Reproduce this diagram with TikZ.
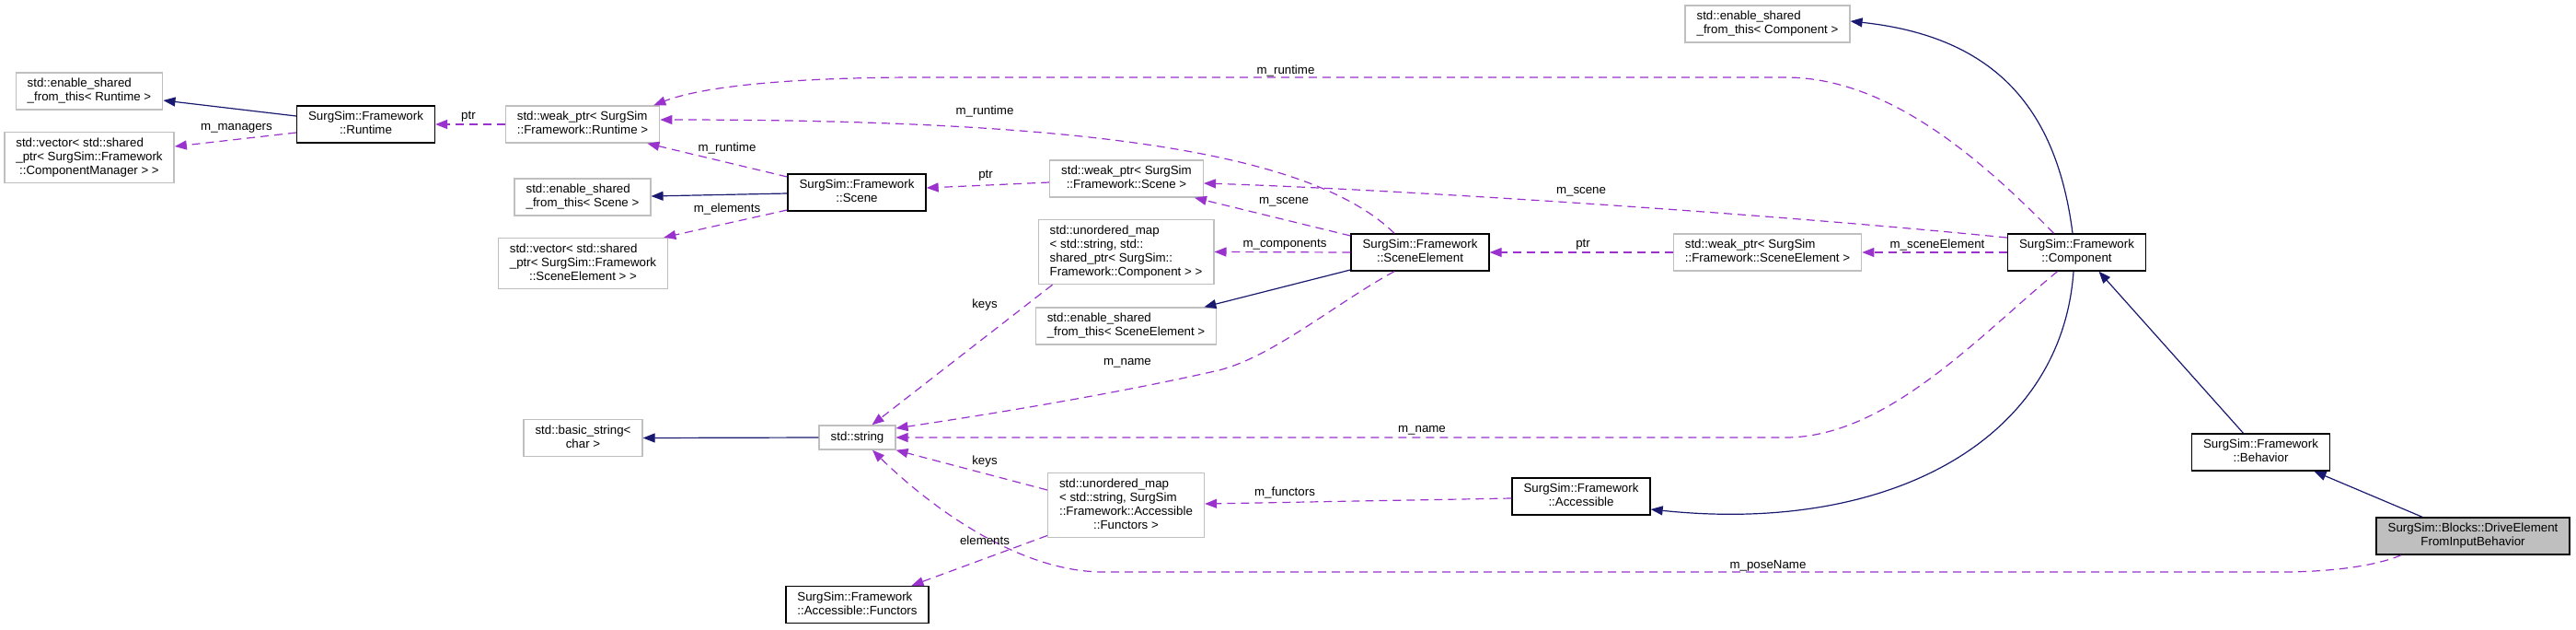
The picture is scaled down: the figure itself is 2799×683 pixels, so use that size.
\documentclass[tikz,border=0pt]{standalone}
\usepackage{fontspec}
\setmainfont{Liberation Sans}
\usepackage{tikz}
\usetikzlibrary{arrows.meta}
\definecolor{edgeblue}{HTML}{191970}
\definecolor{edgepurple}{HTML}{9A32CD}
\definecolor{extgray}{HTML}{BFBFBF}
\newcommand{\boxtext}[2]{\begin{tabular}{@{}l@{}}#1\\\multicolumn{1}{@{}c@{}}{#2}\end{tabular}}
\tikzstyle{cls} = [draw=black, line width=1.4pt, inner xsep=12.5pt, inner ysep=5pt, font=\fontsize{13.3}{15}\selectfont]
\tikzstyle{ext} = [cls, draw=extgray]
\tikzstyle{main} = [cls, fill=extgray]
\tikzstyle{inherit} = [edgeblue, line width=1.2pt, -{Triangle[length=13pt,width=10pt]}]
\tikzstyle{member} = [edgepurple, line width=1.2pt, dash pattern=on 9pt off 6pt, -{Triangle[length=13pt,width=10pt]}]
\tikzstyle{lbl} = [inner sep=0pt, font=\fontsize{13.3}{15}\selectfont]

\begin{document}
\begin{tikzpicture}[x=1pt, y=-1pt]
    \useasboundingbox (0,0) rectangle (2799,683);
    % classes
    \node[ext] (esRuntime) at (97,99) {\boxtext{std::enable\_shared}{\_from\_this< Runtime >}};
    \node[ext] (vecMgr) at (97,171) {\boxtext{std::vector< std::shared\\\_ptr< SurgSim::Framework}{::ComponentManager > >}};
    \node[cls] (runtime) at (397.5,135) {\boxtext{SurgSim::Framework}{::Runtime}};
    \node[ext] (wpRuntime) at (633,135) {\boxtext{std::weak\_ptr< SurgSim}{::Framework::Runtime >}};
    \node[ext] (esScene) at (633,214) {\boxtext{std::enable\_shared}{\_from\_this< Scene >}};
    \node[ext] (vecElem) at (633.5,286) {\boxtext{std::vector< std::shared\\\_ptr< SurgSim::Framework}{::SceneElement > >}};
    \node[cls] (scene) at (931,209) {\boxtext{SurgSim::Framework}{::Scene}};
    \node[ext] (wpScene) at (1224,194) {\boxtext{std::weak\_ptr< SurgSim}{::Framework::Scene >}};
    \node[ext] (mapComp) at (1223.5,273.5) {\boxtext{std::unordered\_map\\< std::string, std::\\shared\_ptr< SurgSim::}{Framework::Component > >}};
    \node[ext] (esElem) at (1223.5,354) {\boxtext{std::enable\_shared}{\_from\_this< SceneElement >}};
    \node[cls] (sceneElem) at (1543,274) {\boxtext{SurgSim::Framework}{::SceneElement}};
    \node[ext] (esComp) at (1920.5,26) {\boxtext{std::enable\_shared}{\_from\_this< Component >}};
    \node[ext] (wpElem) at (1920.5,274) {\boxtext{std::weak\_ptr< SurgSim}{::Framework::SceneElement >}};
    \node[cls] (comp) at (2256.5,274) {\boxtext{SurgSim::Framework}{::Component}};
    \node[ext] (basicStr) at (633.5,475.5) {\boxtext{std::basic\_string<}{char >}};
    \node[ext, minimum height=26pt] (str) at (931.5,475) {std::string};
    \node[ext] (mapFunc) at (1223.5,548.5) {\boxtext{std::unordered\_map\\< std::string, SurgSim\\::Framework::Accessible}{::Functors >}};
    \node[cls] (functors) at (931.5,656.5) {\boxtext{SurgSim::Framework}{::Accessible::Functors}};
    \node[cls] (accessible) at (1718,539) {\boxtext{SurgSim::Framework}{::Accessible}};
    \node[cls] (behavior) at (2456.5,491) {\boxtext{SurgSim::Framework}{::Behavior}};
    \node[main] (drive) at (2687,582) {\boxtext{SurgSim::Blocks::DriveElement}{FromInputBehavior}};

    % inheritance
    \draw[inherit] ([yshift=9pt]runtime.west) -- ([yshift=-10pt]esRuntime.east);
    \draw[inherit] ([yshift=-1pt]scene.west) -- ([yshift=1pt]esScene.east);
    \draw[inherit] ([yshift=-19pt]sceneElem.west) -- ([xshift=-14pt]esElem.north east);
    \draw[inherit] ([xshift=-4.5pt]comp.north) .. controls (2235,120) and (2170,40) .. ([yshift=3pt]esComp.east);
    \draw[inherit] ([xshift=-3.5pt]comp.south) .. controls (2240,480) and (2050,580) .. ([yshift=-14pt]accessible.east);
    \draw[inherit] ([xshift=-19pt]behavior.north) -- ([xshift=24pt]comp.south);
    \draw[inherit] ([xshift=-55pt]drive.north) -- ([xshift=58pt]behavior.south);
    \draw[inherit] (str.west) -- (basicStr.east);

    % members
    \draw[member] ([yshift=-9pt]runtime.west) -- ([yshift=12pt]vecMgr.east);
    \draw[member] (wpRuntime.west) -- (runtime.east);
    \draw[member] ([yshift=17pt]scene.west) -- ([xshift=-14pt]wpRuntime.south east);
    \draw[member] ([yshift=-19pt]scene.west) -- ([xshift=-5pt]vecElem.north east);
    \draw[member] ([yshift=-4pt]wpScene.west) -- ([yshift=5pt]scene.east);
    \draw[member] ([xshift=-28pt]sceneElem.north) .. controls (1420,160) and (1150,130) .. ([yshift=5pt]wpRuntime.east);
    \draw[member] ([yshift=18pt]sceneElem.west) -- ([xshift=-10pt]wpScene.south east);
    \draw[member] (sceneElem.west) -- (mapComp.east);
    \draw[member] ([xshift=-28pt]sceneElem.south) .. controls (1450,330) and (1380,390) .. (1320,403)
        .. controls (1200,430) and (1060,452) .. ([yshift=10pt]str.east);
    \draw[member] (wpElem.west) -- (sceneElem.east);
    \draw[member] ([xshift=-25pt]comp.north) .. controls (2150,170) and (2050,84) .. (1940,84) -- (1000,84)
        .. controls (850,84) and (760,95) .. ([xshift=-7pt]wpRuntime.north east);
    \draw[member] ([yshift=16pt]comp.west) .. controls (1900,230) and (1500,205) .. ([yshift=-5pt]wpScene.east);
    \draw[member] (comp.west) -- (wpElem.east);
    \draw[member] ([xshift=-21pt]comp.south) .. controls (2150,365) and (2050,475) .. (1940,475) -- (str.east);
    \draw[member] ([xshift=-78pt]drive.south) .. controls (2580,615) and (2530,621) .. (2479,621) -- (1199,621)
        .. controls (1100,621) and (1000,540) .. ([xshift=16.5pt]str.south);
    \draw[member] ([yshift=-2pt]accessible.west) -- ([yshift=1.5pt]mapFunc.east);
    \draw[member] ([xshift=-80pt]mapComp.south) -- ([xshift=16pt]str.north);
    \draw[member] ([yshift=16.5pt]mapFunc.west) -- (str.south east);
    \draw[member] ([yshift=-33pt]mapFunc.west) -- ([xshift=59pt]functors.north);

    % labels
    \node[lbl] (lManagers) at (257,139) {m\_managers};
    \node[lbl] (lPtrRuntime) at (509,127) {ptr};
    \node[lbl] (lRuntimeScene) at (790,161) {m\_runtime};
    \node[lbl] (lElements) at (790,227) {m\_elements};
    \node[lbl] (lPtrScene) at (1071,191) {ptr};
    \node[lbl] (lRuntimeElem) at (1070,121) {m\_runtime};
    \node[lbl] (lRuntimeComp) at (1397,77) {m\_runtime};
    \node[lbl] (lSceneElem) at (1395,219) {m\_scene};
    \node[lbl] (lComponents) at (1396,266) {m\_components};
    \node[lbl] (lSceneComp) at (1718,208) {m\_scene};
    \node[lbl] (lPtrElem) at (1720,266) {ptr};
    \node[lbl] (lSceneElement) at (2105,266) {m\_sceneElement};
    \node[lbl] (lKeysComp) at (1070,331) {keys};
    \node[lbl] (lNameElem) at (1225,394) {m\_name};
    \node[lbl] (lNameComp) at (1545,467) {m\_name};
    \node[lbl] (lKeysFunc) at (1070,501) {keys};
    \node[lbl] (lFunctors) at (1396,535) {m\_functors};
    \node[lbl] (lElementsFunc) at (1070,587) {elements};
    \node[lbl] (lPoseName) at (1921,614) {m\_poseName};
\end{tikzpicture}
\end{document}
